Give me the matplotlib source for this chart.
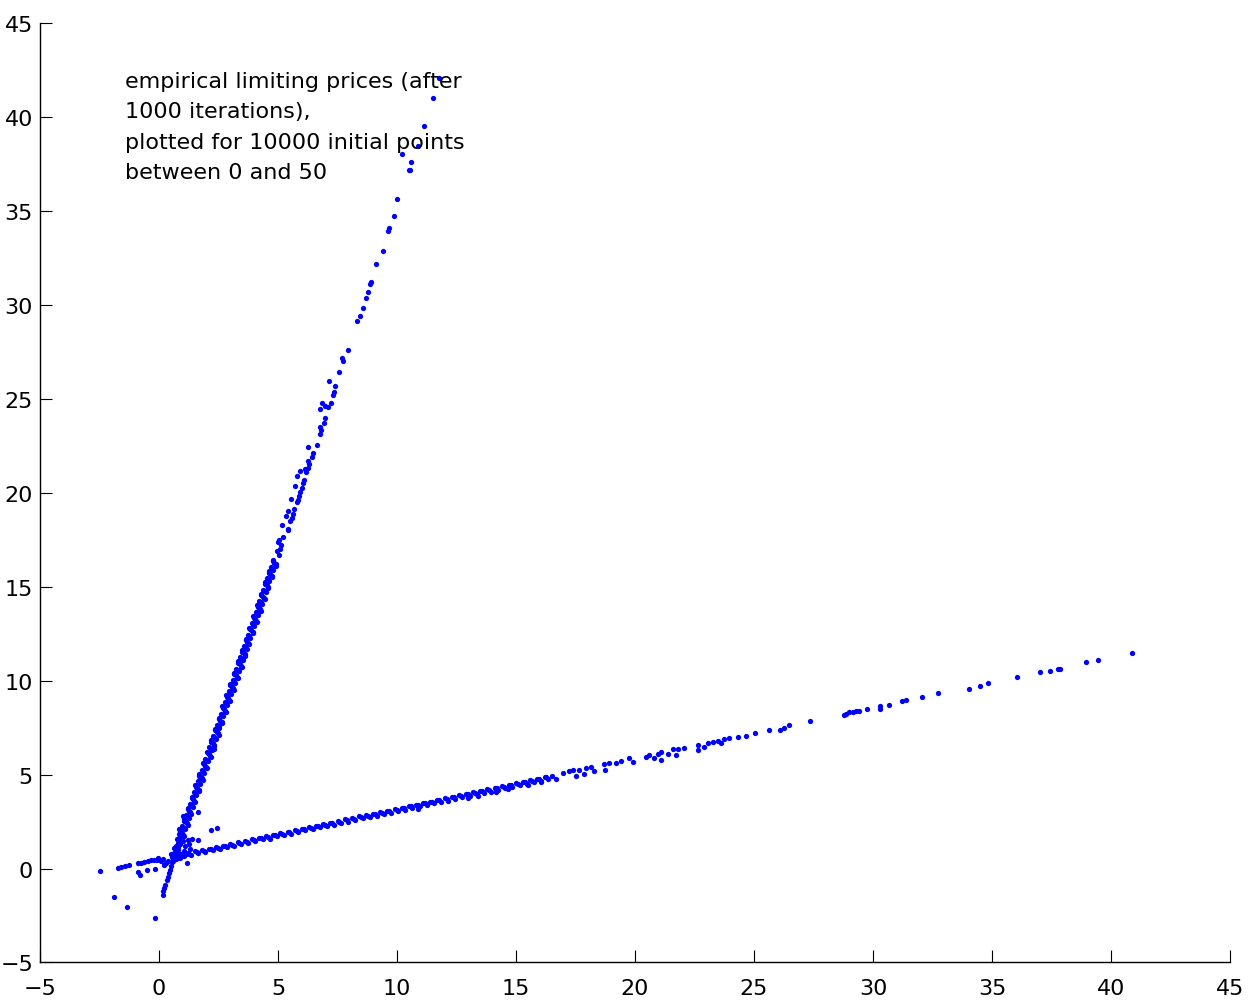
"""
Empirical limiting prices after 1000 iterations, scatter of the two branches.
"""
import matplotlib.pyplot as plt

# ================= data =================
# upper (sparse) part of the steep branch
steep_far_x = [11.78, 11.51, 11.12, 10.87, 10.22, 10.58, 10.49, 10.53, 10.01, 9.86,
               9.68, 9.62, 9.40, 9.13, 8.92, 8.88, 8.79, 8.71, 8.58, 8.43,
               8.31, 7.95, 7.70, 7.74, 7.55, 7.16, 7.41, 7.35, 7.32, 7.23,
               7.09, 6.86, 6.75, 6.99, 6.97, 6.93, 6.78, 6.81, 6.75, 6.63,
               6.25, 6.47, 6.44, 6.27, 6.30, 6.25, 6.13, 6.19, 5.92, 5.81,
               6.11, 6.05, 5.73, 6.00, 5.94, 5.89, 5.84, 5.80, 5.53, 5.68,
               5.63, 5.59, 5.52, 5.42, 5.34, 5.43, 5.41, 5.17, 5.22, 5.05,
               4.99, 5.13, 5.08, 4.96, 5.03]
steep_far_y = [42.07, 41.02, 39.51, 38.46, 38.02, 37.63, 37.17, 37.20, 35.62, 34.72,
               34.08, 33.94, 32.87, 32.18, 31.24, 31.13, 30.71, 30.35, 29.86, 29.39,
               29.16, 27.58, 27.19, 27.01, 26.41, 25.97, 25.68, 25.38, 25.20, 24.76,
               24.55, 24.80, 24.44, 24.62, 24.00, 23.70, 23.52, 23.34, 23.11, 22.56,
               22.43, 22.10, 21.92, 21.71, 21.53, 21.30, 21.26, 21.12, 21.19, 20.89,
               20.68, 20.54, 20.36, 20.27, 20.06, 19.85, 19.61, 19.49, 19.65, 19.12,
               18.90, 18.67, 18.49, 19.05, 18.76, 18.10, 18.05, 18.28, 17.64, 17.48,
               17.40, 17.25, 17.00, 16.92, 16.68]

# dense lower part of the steep branch
steep_band_x = [0.93, 1.00, 1.09, 1.16, 1.25, 1.32, 1.42, 1.49, 1.57, 1.66,
                1.73, 1.82, 1.90, 1.97, 2.06, 2.13, 2.23, 2.30, 2.38, 2.47,
                2.54, 2.63, 2.70, 2.79, 2.87, 2.95, 3.03, 3.11, 3.19, 3.28,
                3.35, 3.44, 3.51, 3.60, 3.68, 3.76, 3.84, 3.93, 4.00, 4.09,
                4.16, 4.25, 4.32, 4.41, 4.48, 4.57, 4.64, 4.73, 4.80, 4.90,
                0.82, 0.90, 0.98, 1.06, 1.14, 1.22, 1.30, 1.39, 1.47, 1.55,
                1.62, 1.70, 1.79, 1.87, 1.95, 2.04, 2.11, 2.19, 2.28, 2.35,
                2.43, 2.52, 2.60, 2.68, 2.76, 2.85, 2.92, 3.00, 3.09, 3.16,
                3.25, 3.33, 3.41, 3.49, 3.57, 3.66, 3.73, 3.82, 3.89, 3.98,
                4.06, 4.14, 4.22, 4.30, 4.38, 4.47, 4.54, 4.62, 4.71, 4.79,
                0.88, 0.96, 1.04, 1.12, 1.20, 1.28, 1.36, 1.44, 1.52, 1.61,
                1.69, 1.77, 1.85, 1.93, 2.01, 2.09, 2.17, 2.25, 2.33, 2.42,
                2.50, 2.58, 2.66, 2.74, 2.82, 2.90, 2.98, 3.06, 3.14, 3.23,
                3.31, 3.39, 3.47, 3.55, 3.63, 3.71, 3.79, 3.87, 3.95, 4.04,
                4.12, 4.20, 4.28, 4.36, 4.44, 4.52, 4.60, 4.68, 4.76, 4.85,
                1.03, 0.88, 1.20, 1.04, 1.36, 1.20, 1.52, 1.37, 1.68, 1.53,
                1.85, 1.69, 2.01, 1.85, 2.17, 2.01, 2.33, 2.18, 2.50, 2.34,
                2.66, 2.50, 2.82, 2.66, 2.98, 2.82, 3.14, 2.99, 3.31, 3.15,
                3.47, 3.31, 3.63, 3.47, 3.79, 3.64, 3.95, 3.80, 4.12, 3.96,
                4.28, 4.12, 4.44, 4.28, 4.60, 4.44, 4.76, 4.61, 4.92, 4.77,
                0.16, 0.18, 0.22, 0.27, 0.33, 0.37, 0.42, 0.46, 0.50, 0.55,
                0.60, 0.66, 0.72, 0.78, 0.84]
steep_band_y = [1.50, 1.80, 2.10, 2.40, 2.70, 3.00, 3.30, 3.60, 3.90, 4.20,
                4.50, 4.80, 5.10, 5.40, 5.70, 6.00, 6.30, 6.60, 6.90, 7.20,
                7.50, 7.80, 8.10, 8.40, 8.70, 9.00, 9.30, 9.60, 9.90, 10.20,
                10.50, 10.80, 11.10, 11.40, 11.70, 12.00, 12.30, 12.60, 12.90, 13.20,
                13.50, 13.80, 14.10, 14.40, 14.70, 15.00, 15.30, 15.60, 15.90, 16.20,
                1.65, 1.95, 2.25, 2.55, 2.85, 3.15, 3.45, 3.75, 4.05, 4.35,
                4.65, 4.95, 5.25, 5.55, 5.85, 6.15, 6.45, 6.75, 7.05, 7.35,
                7.65, 7.95, 8.25, 8.55, 8.85, 9.15, 9.45, 9.75, 10.05, 10.35,
                10.65, 10.95, 11.25, 11.55, 11.85, 12.15, 12.45, 12.75, 13.05, 13.35,
                13.65, 13.95, 14.25, 14.55, 14.85, 15.15, 15.45, 15.75, 16.05, 16.35,
                1.58, 1.88, 2.18, 2.48, 2.78, 3.08, 3.38, 3.68, 3.98, 4.28,
                4.58, 4.88, 5.18, 5.48, 5.78, 6.08, 6.38, 6.68, 6.98, 7.28,
                7.58, 7.88, 8.18, 8.48, 8.78, 9.08, 9.38, 9.68, 9.98, 10.28,
                10.58, 10.88, 11.18, 11.48, 11.78, 12.08, 12.38, 12.68, 12.98, 13.28,
                13.58, 13.88, 14.18, 14.48, 14.78, 15.08, 15.38, 15.68, 15.98, 16.28,
                1.73, 2.03, 2.33, 2.63, 2.93, 3.23, 3.53, 3.83, 4.13, 4.43,
                4.73, 5.03, 5.33, 5.63, 5.93, 6.23, 6.53, 6.83, 7.13, 7.43,
                7.73, 8.03, 8.33, 8.63, 8.93, 9.23, 9.53, 9.83, 10.13, 10.43,
                10.73, 11.03, 11.33, 11.63, 11.93, 12.23, 12.53, 12.83, 13.13, 13.43,
                13.73, 14.03, 14.33, 14.63, 14.93, 15.23, 15.53, 15.83, 16.13, 16.43,
                -1.42, -1.20, -1.03, -0.85, -0.62, -0.45, -0.25, -0.05, 0.15, 0.35,
                0.55, 0.75, 0.95, 1.15, 1.35]

# dense left part of the shallow branch
flat_band_x = [0.6, 0.9, 1.2, 1.5, 1.8, 2.1, 2.4, 2.7, 3.0, 3.3,
               3.6, 3.9, 4.2, 4.5, 4.8, 5.1, 5.4, 5.7, 6.0, 6.3,
               6.6, 6.9, 7.2, 7.5, 7.8, 8.1, 8.4, 8.7, 9.0, 9.3,
               9.6, 9.9, 10.2, 10.5, 10.8, 11.1, 11.4, 11.7, 12.0, 12.3,
               12.6, 12.9, 13.2, 13.5, 13.8, 14.1, 14.4, 14.7, 15.0, 15.3,
               15.6, 15.9, 16.2, 16.5,
               0.75, 1.05, 1.35, 1.65, 1.95, 2.25, 2.55, 2.85, 3.15, 3.45,
               3.75, 4.05, 4.35, 4.65, 4.95, 5.25, 5.55, 5.85, 6.15, 6.45,
               6.75, 7.05, 7.35, 7.65, 7.95, 8.25, 8.55, 8.85, 9.15, 9.45,
               9.75, 10.05, 10.35, 10.65, 10.95, 11.25, 11.55, 11.85, 12.15, 12.45,
               12.75, 13.05, 13.35, 13.65, 13.95, 14.25, 14.55, 14.85, 15.15, 15.45,
               15.75, 16.05, 16.35,
               0.68, 0.98, 1.28, 1.58, 1.88, 2.18, 2.48, 2.78, 3.08, 3.38,
               3.68, 3.98, 4.28, 4.58, 4.88, 5.18, 5.48, 5.78, 6.08, 6.38,
               6.68, 6.98, 7.28, 7.58, 7.88, 8.18, 8.48, 8.78, 9.08, 9.38,
               9.68, 9.98, 10.28, 10.58, 10.88, 11.18, 11.48, 11.78, 12.08, 12.38,
               12.68, 12.98, 13.28, 13.58, 13.88, 14.18, 14.48, 14.78, 15.08, 15.38,
               15.68, 15.98, 16.28]
flat_band_y = [0.66, 0.76, 0.82, 0.93, 0.99, 1.05, 1.16, 1.22, 1.31, 1.40,
               1.46, 1.57, 1.63, 1.72, 1.80, 1.88, 1.97, 2.03, 2.13, 2.20,
               2.29, 2.36, 2.45, 2.52, 2.62, 2.68, 2.78, 2.85, 2.93, 3.02,
               3.09, 3.18, 3.25, 3.34, 3.41, 3.50, 3.57, 3.66, 3.74, 3.82,
               3.90, 3.98, 4.06, 4.14, 4.22, 4.30, 4.39, 4.46, 4.55, 4.62,
               4.71, 4.78, 4.87, 4.94,
               0.58, 0.66, 0.72, 0.83, 0.89, 0.98, 1.05, 1.13, 1.22, 1.31,
               1.37, 1.47, 1.55, 1.60, 1.71, 1.80, 1.86, 1.95, 2.03, 2.09,
               2.19, 2.27, 2.33, 2.43, 2.50, 2.60, 2.67, 2.75, 2.81, 2.91,
               2.97, 3.06, 3.13, 3.22, 3.31, 3.37, 3.47, 3.54, 3.62, 3.70,
               3.80, 3.86, 3.95, 4.03, 4.10, 4.19, 4.27, 4.35, 4.44, 4.51,
               4.60, 4.68, 4.75,
               0.63, 0.71, 0.80, 0.88, 0.96, 1.04, 1.12, 1.20, 1.28, 1.36,
               1.44, 1.52, 1.61, 1.69, 1.77, 1.85, 1.93, 2.01, 2.09, 2.17,
               2.25, 2.33, 2.42, 2.50, 2.58, 2.66, 2.74, 2.82, 2.90, 2.98,
               3.06, 3.14, 3.23, 3.31, 3.39, 3.47, 3.55, 3.63, 3.71, 3.79,
               3.87, 3.95, 4.04, 4.12, 4.20, 4.28, 4.36, 4.44, 4.52, 4.60,
               4.68, 4.76, 4.85]

# sparse right part of the shallow branch
flat_far_x = [16.96, 17.24, 17.38, 17.52, 17.66, 17.87, 17.94, 18.15, 18.29, 18.71,
              18.75, 18.92, 19.20, 19.41, 19.76, 19.90, 20.46, 20.60, 20.81, 20.95,
              21.09, 21.09, 21.40, 21.58, 21.72, 21.82, 22.07, 22.63, 22.66, 22.91,
              23.05, 23.26, 23.47, 23.61, 23.75, 23.96, 24.34, 24.66, 25.04, 25.64,
              26.11, 26.25, 26.47, 27.34, 28.77, 28.87, 29.00, 29.15, 29.29, 29.42,
              29.75, 30.29, 30.29, 30.66, 31.22, 31.40, 32.05, 32.72, 34.03, 34.50,
              34.83, 36.04, 37.03, 37.45, 37.76, 37.84, 38.95, 39.45, 40.87,
              10.87, 12.97, 13.39, 14.16, 14.65, 15.49, 16.05, 16.68]
flat_far_y = [5.11, 5.18, 5.23, 4.94, 5.27, 5.06, 5.36, 5.42, 5.18, 5.55,
              5.23, 5.64, 5.63, 5.73, 5.86, 5.68, 5.95, 6.03, 5.89, 6.12,
              6.21, 5.80, 6.09, 6.34, 6.07, 6.39, 6.43, 6.60, 6.30, 6.48,
              6.71, 6.75, 6.78, 6.69, 6.89, 6.96, 7.03, 7.07, 7.24, 7.35,
              7.39, 7.49, 7.63, 7.86, 8.20, 8.24, 8.31, 8.31, 8.38, 8.41,
              8.48, 8.66, 8.52, 8.72, 8.91, 8.95, 9.11, 9.32, 9.58, 9.73,
              9.87, 10.19, 10.45, 10.54, 10.63, 10.63, 10.97, 11.11, 11.50,
              3.19, 3.73, 3.87, 4.08, 4.22, 4.47, 4.62, 4.76]

# points near the origin, the crossing blob and stray points
stray_x = [-1.71, -1.60, -1.43, -1.25, -0.87, -0.76, -0.62, -0.47, -0.34, -0.20,
           -0.08, -0.87, -0.79, -0.52, -0.17, 0.22, 0.16, 0.37, -2.47, -1.90,
           -1.36, -0.16, 1.18, 1.00, 1.63, 2.18, 2.44, 2.32,
           0.55, 0.70, 0.85, 0.95, 1.05, 0.80, 0.65, 0.90, 1.10, 1.30,
           1.40, 0.75, 0.60, 1.20, 0.95, 0.85, 0.30, 0.10, -0.05, 1.63,
           0.92, 0.85, 0.50, 0.62, 0.78, 1.00, 1.15, 0.70, 0.88, 1.25]
stray_y = [0.04, 0.09, 0.14, 0.18, 0.27, 0.32, 0.36, 0.39, 0.43, 0.46,
           0.48, -0.18, -0.36, -0.09, -0.04, 0.21, 0.53, 0.39, -0.14, -1.51,
           -2.04, -2.63, 0.27, 2.78, 3.02, 2.04, 2.17, 6.39,
           0.60, 0.50, 0.70, 0.80, 0.95, 1.00, 0.85, 1.30, 1.20, 1.05,
           1.55, 1.55, 0.40, 1.50, 1.70, 2.10, 0.30, 0.40, 0.55, 1.51,
           2.13, 1.86, 0.80, 1.10, 1.35, 1.45, 0.75, 1.20, 0.55, 1.30]

note = ("empirical limiting prices (after\n1000 iterations),\n"
        "plotted for 10000 initial points\nbetween 0 and 50")

# ================= draw =================
plt.rcParams['font.family'] = ['DejaVu Sans']
fig = plt.figure(figsize=(12.54, 10.03), dpi=100)
ax = fig.add_axes([0.0319, 0.0394, 0.949, 0.9364])

for xs, ys in [(steep_far_x, steep_far_y), (steep_band_x, steep_band_y),
               (flat_band_x, flat_band_y), (flat_far_x, flat_far_y),
               (stray_x, stray_y)]:
    ax.plot(xs, ys, linestyle="none", marker="o", markersize=3.8,
            markeredgewidth=0, color=(0, 0, 1))

ax.set_xlim(-5, 45)
ax.set_ylim(-5, 45)
ax.set_xticks(range(-5, 46, 5))
ax.set_yticks(range(-5, 46, 5))
ax.tick_params(direction="in", length=8.5, width=0.8, labelsize=16)
ax.tick_params(axis="x", pad=11)
ax.tick_params(axis="y", pad=5)
ax.spines["top"].set_visible(False)
ax.spines["right"].set_visible(False)
for side in ["left", "bottom"]:
    ax.spines[side].set_linewidth(1.0)

ax.text(-1.43, 42.45, note, fontsize=16, ha="left", va="top", linespacing=1.64)

plt.savefig("out.png", dpi=100)
plt.close()
